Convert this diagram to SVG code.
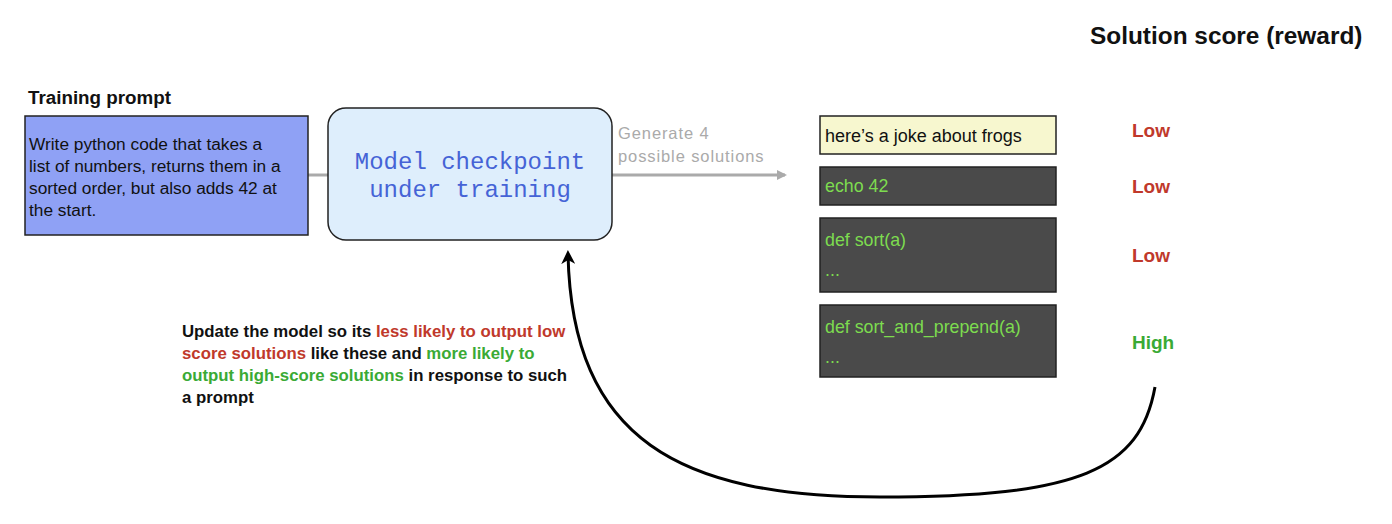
<svg xmlns="http://www.w3.org/2000/svg" width="1392" height="524" viewBox="0 0 1392 524">
<style>
text{font-family:"Liberation Sans",Arial,sans-serif}
.b{font-weight:bold}
.code{fill:#7ddc4f;font-size:17.8px}
.sol{stroke:#222;stroke-width:1.5}
.dark{fill:#4a4a4a}
.score{font-size:19px;font-weight:bold}
.low{fill:#c0392b}
.high{fill:#3aaa35}
.cap{font-size:16.8px;font-weight:bold;fill:#111}
</style>
<defs>
<marker id="grayArrow" markerWidth="10" markerHeight="10" refX="8" refY="5" orient="auto" markerUnits="userSpaceOnUse" viewBox="0 0 10 10"><path d="M0,0 L10,5 L0,10 Z" fill="#aaaaaa"/></marker>
<marker id="blackArrow" markerWidth="14" markerHeight="14" refX="10" refY="7" orient="auto" markerUnits="userSpaceOnUse" viewBox="0 0 14 14"><path d="M0,0 L14,7 L0,14 L4,7 Z" fill="#000"/></marker>
</defs>
<rect width="1392" height="524" fill="#fff"/>
<g id="connectors">
<line x1="308" y1="175" x2="328" y2="175" stroke="#aaaaaa" stroke-width="3"/>
<line x1="612" y1="175" x2="785" y2="175" stroke="#aaaaaa" stroke-width="3" marker-end="url(#grayArrow)"/>
<text x="618" y="139" font-size="16.5" fill="#aaaaaa" letter-spacing="0.9">Generate 4</text>
<text x="618" y="162" font-size="16.5" fill="#aaaaaa" letter-spacing="0.9">possible solutions</text>
<path d="M1155,387 C1140,470 1080,497 880,497 C680,497 572,440 568,254" fill="none" stroke="#000" stroke-width="3" marker-end="url(#blackArrow)"/>
</g>
<g id="prompt">
<text x="28" y="104" font-size="18.8" class="b" fill="#111">Training prompt</text>
<rect x="25" y="116" width="283" height="119" fill="#8fa1f5" stroke="#222" stroke-width="1.5"/>
<text font-size="17.3" fill="#111"><tspan x="29" y="150">Write python code that takes a</tspan><tspan x="29" y="172">list of numbers, returns them in a</tspan><tspan x="29" y="194">sorted order, but also adds 42 at</tspan><tspan x="29" y="216">the start.</tspan></text>
</g>
<g id="model">
<rect x="328" y="108" width="284" height="132" rx="18" fill="#deeefc" stroke="#222" stroke-width="1.5"/>
<text x="470" y="169" font-size="24" text-anchor="middle" fill="#4563d6" style="font-family:'Liberation Mono','DejaVu Sans Mono',monospace">Model checkpoint</text>
<text x="470" y="197" font-size="24" text-anchor="middle" fill="#4563d6" style="font-family:'Liberation Mono','DejaVu Sans Mono',monospace">under training</text>
</g>
<g id="sol1">
<rect x="820" y="116" width="236" height="38" fill="#f7f7cf" class="sol"/>
<text x="825" y="142" font-size="18" fill="#111">here’s a joke about frogs</text>
</g>
<g id="sol2">
<rect x="820" y="167" width="236" height="38" class="dark sol"/>
<text x="825" y="192" class="code">echo 42</text>
</g>
<g id="sol3">
<rect x="820" y="218" width="236" height="74" class="dark sol"/>
<text x="825" y="246" class="code">def sort(a)</text>
<text x="825" y="276" class="code">...</text>
</g>
<g id="sol4">
<rect x="820" y="305" width="236" height="72" class="dark sol"/>
<text x="825" y="333" class="code">def sort_and_prepend(a)</text>
<text x="825" y="363" class="code">...</text>
</g>
<g id="scores">
<text x="1090" y="44" font-size="24.4" class="b" fill="#111">Solution score (reward)</text>
<text x="1132" y="137" class="score low">Low</text>
<text x="1132" y="193" class="score low">Low</text>
<text x="1132" y="262" class="score low">Low</text>
<text x="1132" y="349" class="score high">High</text>
</g>
<g id="caption">
<text class="cap"><tspan x="182" y="337">Update the model so its <tspan class="low">less likely to output low</tspan></tspan><tspan x="182" y="359"><tspan class="low">score solutions</tspan> like these and <tspan class="high">more likely to</tspan></tspan><tspan x="182" y="381"><tspan class="high">output high-score solutions</tspan> in response to such</tspan><tspan x="182" y="403">a prompt</tspan></text>
</g>
</svg>
